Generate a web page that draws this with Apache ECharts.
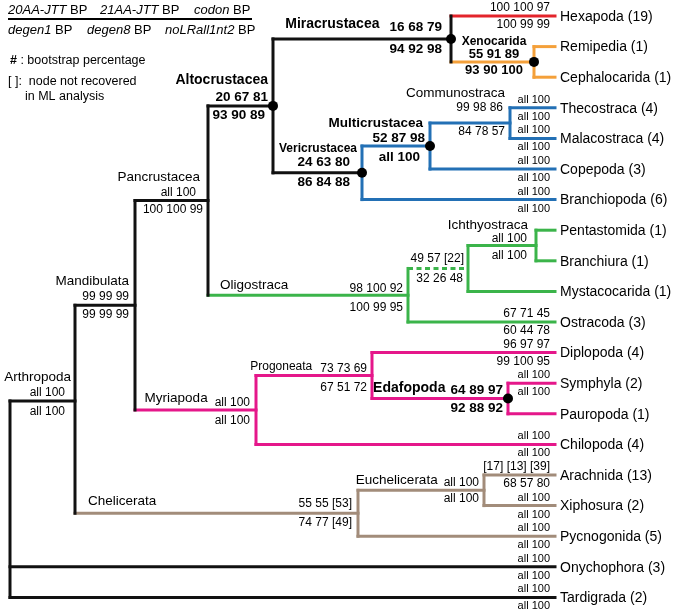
<!DOCTYPE html>
<html><head><meta charset="utf-8">
<script src="https://cdn.jsdelivr.net/npm/echarts@6/dist/echarts.min.js"></script>
<style>html,body{margin:0;padding:0;background:#fff}#c{width:674px;height:612px}</style>
</head><body><div id="c"></div>
<script>
// ---------------- DATA ----------------
const leafNames = ['Hexapoda (19)','Remipedia (1)','Cephalocarida (1)','Thecostraca (4)','Malacostraca (4)','Copepoda (3)','Branchiopoda (6)','Pentastomida (1)','Branchiura (1)','Mystacocarida (1)','Ostracoda (3)','Diplopoda (4)','Symphyla (2)','Pauropoda (1)','Chilopoda (4)','Arachnida (13)','Xiphosura (2)','Pycnogonida (5)','Onychophora (3)','Tardigrada (2)'];
const leafParent = ['Miracrustacea','Xenocarida','Xenocarida','Communostraca','Communostraca','Multicrustacea','Vericrustacea','Ichthyostraca','Ichthyostraca','Node22','Oligostraca','Progoneata','Edafopoda','Edafopoda','Myriapoda','Euchelicerata','Euchelicerata','Chelicerata','Root','Root'];
const leafSupAbove = ['100 100 97','','','all 100','all 100','all 100','all 100','','','','67 71 45','96 97 97','all 100','','all 100','[17] [13] [39]','all 100','all 100','all 100','all 100'];
const leafSupBelow = ['100 99 99','','','all 100','all 100','all 100','all 100','','','','60 44 78','99 100 95','all 100','','all 100','68 57 80','all 100','all 100','all 100','all 100'];
const tipDepth = 555;

const cladeIds = ['Root','Arthropoda','Mandibulata','Pancrustacea','Altocrustacea','Miracrustacea','Xenocarida','Vericrustacea','Multicrustacea','Communostraca','Oligostraca','Node22','Ichthyostraca','Myriapoda','Progoneata','Edafopoda','Chelicerata','Euchelicerata'];
const cladeParent = [null,'Root','Arthropoda','Mandibulata','Pancrustacea','Altocrustacea','Miracrustacea','Altocrustacea','Vericrustacea','Multicrustacea','Pancrustacea','Oligostraca','Node22','Mandibulata','Myriapoda','Progoneata','Arthropoda','Chelicerata'];
const cladeDepth = [10,75,135,208,273,451,534,362,430,510,408,468,536,256,372,508,358,484];
const cladeYOverride = [null,12.58,null,null,null,null,null,null,null,null,null,null,null,null,null,null,null,null];
const cladeLabel = ['','Arthropoda','Mandibulata','Pancrustacea','Altocrustacea','Miracrustacea','Xenocarida','Vericrustacea','Multicrustacea','Communostraca','Oligostraca','','Ichthyostraca','Myriapoda','Progoneata','Edafopoda','Chelicerata','Euchelicerata'];
const cladeSupAbove = ['','all 100','99 99 99','all 100','20 67 81','16 68 79','55 91 89','24 63 80','52 87 98','99 98 86','98 100 92','49 57 [22]','all 100','all 100','73 73 69','64 89 97','55 55 [53]','all 100'];
const cladeSupBelow = ['','all 100','99 99 99','100 100 99','93 90 89','94 92 98','93 90 100','86 84 88','all 100','84 78 57','100 99 95','32 26 48','all 100','all 100','67 51 72','92 88 92','74 77 [49]','all 100'];
const cladeKey = [0,0,0,0,1,1,1,1,1,0,0,0,0,0,0,1,0,0];
const cladeNotRecovered = [0,0,0,0,0,0,0,0,0,0,0,1,0,0,0,0,0,0];

// ---------------- STYLE ----------------
const FONT = 'Liberation Sans, Arial, Helvetica, sans-serif';
const C = {k:'#111111', r:'#e3242b', o:'#f4a03a', b:'#2370b5', g:'#3bb44a', m:'#e5178a', t:'#a28c7a'};
const cladeColor = {Root:'k',Arthropoda:'k',Mandibulata:'k',Pancrustacea:'k',Altocrustacea:'k',Miracrustacea:'k',Xenocarida:'o',Vericrustacea:'b',Multicrustacea:'b',Communostraca:'b',Oligostraca:'g',Node22:'g',Ichthyostraca:'g',Myriapoda:'m',Progoneata:'m',Edafopoda:'m',Chelicerata:'t',Euchelicerata:'t'};
const stemColorOverride = {Vericrustacea:'k'};
const leafColorOverride = {0:'r'};
// label layout: name [mode, dx, dy, size, bold, gap]; supA [dx,dy]; supB [dx,dy]; supSize, supBold
const L = {
  Arthropoda:   {name:['above',4,-24,13.5,0],   a:[10,-8], b:[10,11]},
  Mandibulata:  {name:['above',6,-24,13.5,0],   a:[6,-9],  b:[6,9]},
  Pancrustacea: {name:['above',8,-23,13.5,0],   a:[12,-8], b:[5,9]},
  Altocrustacea:{name:['above',5,-26,14,1],     a:[5,-9],  b:[8,9],  ss:13.5, sb:1},
  Miracrustacea:{name:['inline',0,-15,14,1,10], a:[9,-12], b:[9,10], ss:13.5, sb:1},
  Xenocarida:   {name:['center',40,-20,12,1],   a:[40,-7], b:[40,9], ss:13, sb:1, center:1},
  Vericrustacea:{name:['above',5,-24,12,1],     a:[12,-11],b:[12,9], ss:13.5, sb:1},
  Multicrustacea:{name:['above',7,-23,13.5,1],  a:[5,-8],  b:[10,11], ss:13.5, sb:1},
  Communostraca:{name:['above',5,-30,13.5,0],   a:[7,-15], b:[5,9]},
  Oligostraca:  {name:['start',12,-10,13.5,0],  a:[5,-7],  b:[5,12]},
  Node22:       {name:null,                     a:[4,-10], b:[5,10]},
  Ichthyostraca:{name:['above',8,-20,13.5,0],   a:[9,-7],  b:[9,10]},
  Myriapoda:    {name:['inline',0,-12,13.5,0,7],a:[6,-7],  b:[6,11]},
  Progoneata:   {name:['inline',0,-9,12,0,8],   a:[5,-7],  b:[5,12]},
  Edafopoda:    {name:['inline',0,-10,14,1,5],  a:[5,-8],  b:[5,10], ss:13.5, sb:1},
  Chelicerata:  {name:['start',13,-12,13.5,0],  a:[6,-10], b:[6,9]},
  Euchelicerata:{name:['inline',0,-10,13.5,0,6],a:[5,-8],  b:[5,8]}
};

// ---------------- BUILD ----------------
const mctx = document.createElement('canvas').getContext('2d');
function textW(t, size, bold){ mctx.font = (bold?'bold ':'') + size + 'px ' + FONT; return mctx.measureText(t).width; }

const idx = {}; cladeIds.forEach((id,i)=>idx[id]=i);
const children = cladeIds.map(()=>[]);
cladeParent.forEach((p,i)=>{ if(p) children[idx[p]].push({t:'c',i}); });
leafParent.forEach((p,i)=>children[idx[p]].push({t:'l',i}));
const cy = [];
function yOf(ch){ return ch.t==='l' ? ch.i : nodeY(ch.i); }
function nodeY(i){
  if (cy[i]!==undefined) return cy[i];
  const ys = children[i].map(yOf);
  const y = cladeYOverride[i]!=null ? cladeYOverride[i] : (Math.min(...ys)+Math.max(...ys))/2;
  cy[i]=y; return y;
}
cladeIds.forEach((_,i)=>nodeY(i));
function childRange(i){ const ys=children[i].map(yOf); return [Math.min(...ys), Math.max(...ys)]; }

const segs = [];
// stems of clades
cladeIds.forEach((id,i)=>{
  if(!cladeParent[i]) return;
  const p = idx[cladeParent[i]];
  segs.push({x1:cladeDepth[p], y1:cy[i], x2:cladeDepth[i], y2:cy[i], color:C[stemColorOverride[id]||cladeColor[id]], dash:!!cladeNotRecovered[i]});
});
// leaf stems
leafNames.forEach((n,i)=>{
  const p = idx[leafParent[i]];
  segs.push({x1:cladeDepth[p], y1:i, x2:tipDepth, y2:i, color:C[leafColorOverride[i]||cladeColor[leafParent[i]]], dash:false});
});
// verticals
cladeIds.forEach((id,i)=>{
  const r = childRange(i);
  segs.push({x1:cladeDepth[i], y1:r[0], x2:cladeDepth[i], y2:r[1], color:C[cladeColor[id]], dash:false});
});

const dots = [];
cladeIds.forEach((id,i)=>{ if(cladeKey[i]) dots.push([cladeDepth[i], cy[i]]); });

const texts = [];
function addT(x,y,dx,dy,text,size,bold,align){ if(text) texts.push({x,y,dx,dy,text,size,bold,align}); }
// leaf labels
leafNames.forEach((n,i)=>{
  addT(tipDepth,i,5,1,n,14,0,'left');
  const sa = leafSupAbove[i], sb = leafSupBelow[i];
  addT(tipDepth,i,-5,-8,sa, sa.startsWith('all')?11:12,0,'right');
  addT(tipDepth,i,-5,9,sb, sb.startsWith('all')?11:12,0,'right');
});
// clade labels
cladeIds.forEach((id,i)=>{
  const l = L[id]; if(!l) return;
  const x = cladeDepth[i], y = cy[i];
  const ss = l.ss||12, sbold = l.sb||0;
  const al = l.center ? 'center' : 'right';
  addT(x,y,-l.a[0],l.a[1],cladeSupAbove[i],ss,sbold,al);
  addT(x,y,-l.b[0],l.b[1],cladeSupBelow[i],ss,sbold,al);
  if(l.name){
    const [mode,dx,dy,size,bold,gap] = l.name;
    if(mode==='above') addT(x,y,-dx,dy,cladeLabel[i],size,bold,'right');
    else if(mode==='center') addT(x,y,-dx,dy,cladeLabel[i],size,bold,'center');
    else if(mode==='inline'){
      const w = textW(cladeSupAbove[i], ss, sbold);
      addT(x,y,-(l.a[0]+w+gap),dy,cladeLabel[i],size,bold,'right');
    } else if(mode==='start'){
      addT(cladeDepth[idx[cladeParent[i]]],y,dx,dy,cladeLabel[i],size,bold,'left');
    }
  }
});

// ---------------- CHART ----------------
const chart = echarts.init(document.getElementById('c'), null, {renderer:'canvas', width:674, height:612});
const legendItems = [
  {x:8, y:10, t:'{i|20AA-JTT} BP'}, {x:100, y:10, t:'{i|21AA-JTT} BP'}, {x:194, y:10, t:'{i|codon} BP'},
  {x:8, y:30, t:'{i|degen1} BP'}, {x:87, y:30, t:'{i|degen8} BP'}, {x:165, y:30, t:'{i|noLRall1nt2} BP'}
];
const graphics = legendItems.map(o=>({type:'text', x:o.x, y:o.y, style:{text:o.t, fill:'#000', fontSize:13, fontFamily:FONT, verticalAlign:'middle', rich:{i:{fontStyle:'italic', fontSize:13, fontFamily:FONT}}}}));
graphics.push({type:'line', shape:{x1:8,y1:19,x2:252,y2:19}, style:{stroke:'#000', lineWidth:2}});
graphics.push({type:'text', x:10, y:61, style:{text:'{b|#} : bootstrap percentage', fill:'#000', fontSize:12.5, fontFamily:FONT, verticalAlign:'middle', rich:{b:{fontWeight:'bold', fontSize:12.5, fontFamily:FONT}}}});
graphics.push({type:'text', x:8, y:82, style:{text:'[ ]:  node not recovered', fill:'#000', fontSize:12.5, fontFamily:FONT, verticalAlign:'middle'}});
graphics.push({type:'text', x:25, y:97, style:{text:'in ML analysis', fill:'#000', fontSize:12.5, fontFamily:FONT, verticalAlign:'middle'}});

chart.setOption({
  animation:false,
  backgroundColor:'#fff',
  grid:{left:0,right:0,top:0,bottom:0},
  xAxis:{type:'value', min:0, max:674, show:false},
  yAxis:{type:'value', min:-0.523, max:19.477, inverse:true, show:false},
  graphic: graphics,
  series:[
    {type:'custom', clip:false, encode:{x:[0,2], y:[1,3]}, data: segs.map(s=>[s.x1,s.y1,s.x2,s.y2]),
      renderItem:(params, api)=>{
        const s = segs[params.dataIndex];
        const a = api.coord([api.value(0), api.value(1)]);
        const b = api.coord([api.value(2), api.value(3)]);
        return {type:'line', shape:{x1:a[0],y1:a[1],x2:b[0],y2:b[1]},
          style:{stroke:s.color, lineWidth:3, lineCap:s.dash?'butt':'square', lineDash:s.dash?[5,3.5]:null, fill:null}};
      }},
    {type:'custom', clip:false, encode:{x:0, y:1}, data: dots,
      renderItem:(params, api)=>{
        const p = api.coord([api.value(0), api.value(1)]);
        return {type:'circle', shape:{cx:p[0], cy:p[1], r:5}, style:{fill:'#000'}};
      }},
    {type:'custom', clip:false, encode:{x:0, y:1}, data: texts.map(t=>[t.x,t.y]),
      renderItem:(params, api)=>{
        const t = texts[params.dataIndex];
        const p = api.coord([api.value(0), api.value(1)]);
        return {type:'text', x:p[0]+t.dx, y:p[1]+t.dy,
          style:{text:t.text, fill:'#000', fontSize:t.size, fontWeight:t.bold?'bold':'normal', fontFamily:FONT, align:t.align, verticalAlign:'middle'}};
      }}
  ]
});
</script></body></html>
